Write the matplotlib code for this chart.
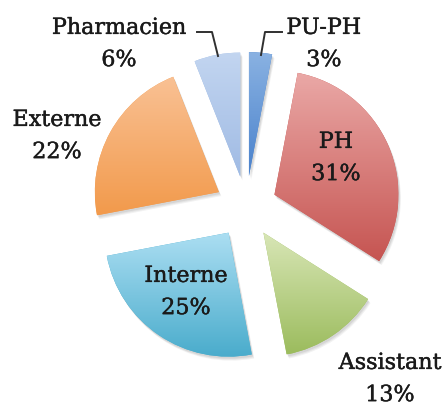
import numpy as np
import matplotlib
matplotlib.use('Agg')
import matplotlib.pyplot as plt
import matplotlib.patheffects as pe
from matplotlib.colors import LinearSegmentedColormap

labels = ['PU-PH', 'PH', 'Assistant', 'Interne', 'Externe', 'Pharmacien']
values = [3, 31, 13, 25, 22, 6]
tops = ['#8ab2e2', '#eaa8a6', '#d8e6b6', '#abdef2', '#f9c194', '#c2d5f0']
bottoms = ['#4a82cc', '#c65552', '#9cbc5e', '#4aaccc', '#f29a4c', '#a0bbe4']

# pixel geometry of the reference picture
W, H = 445, 406
cx, cy, R = 246, 208, 124


def px(x, y):
    return (x - cx) / R, (cy - y) / R


fig = plt.figure(figsize=(W / 100, H / 100), dpi=100)
ax = fig.add_axes([0, 0, 1, 1])

wedges, _ = ax.pie(values, startangle=90, counterclock=False,
                   explode=[0.25] * len(values), radius=1,
                   colors=bottoms, wedgeprops=dict(linewidth=0))

for w, top, bot in zip(wedges, tops, bottoms):
    # soft shadow
    for k, a in [(4, 0.10), (3, 0.12), (2, 0.15)]:
        sh = matplotlib.patches.Wedge((w.center[0] + k * 0.6 / R, w.center[1] - k / R),
                                      w.r, w.theta1, w.theta2,
                                      facecolor='#808080', alpha=a, lw=0, zorder=0)
        ax.add_patch(sh)
    # vertical gradient clipped to the slice
    ext = w.get_path().transformed(w.get_patch_transform()).get_extents()
    cmap = LinearSegmentedColormap.from_list('g', [bot, top])
    grad = np.linspace(0, 1, 100).reshape(-1, 1)
    im = ax.imshow(grad, cmap=cmap, origin='lower', aspect='auto',
                   extent=[ext.x0, ext.x1, ext.y0, ext.y1], zorder=2)
    im.set_clip_path(w)
    w.set_zorder(1)

txt = dict(family='DejaVu Serif', fontsize=16, color='#1a1a1a',
           ha='center', va='center', linespacing=1.6, zorder=5,
           path_effects=[pe.withStroke(linewidth=0.3, foreground='#1a1a1a')])
label_px = {'PU-PH': (324, 45), 'PH': (336, 159), 'Assistant': (390, 380),
            'Interne': (186, 293), 'Externe': (57, 137), 'Pharmacien': (119, 45)}
for lab, v in zip(labels, values):
    x, y = px(*label_px[lab])
    ax.text(x, y, f'{lab}\n{v}%', **txt)

# leader lines
for pts in [[(197, 33), (212, 33), (218, 57)], [(282, 33), (265, 33), (261, 56)]]:
    xs, ys = zip(*[px(*p) for p in pts])
    ax.plot(xs, ys, color='#303030', lw=1.4, zorder=4)

x0, y0 = px(0, H)
x1, y1 = px(W, 0)
ax.set_xlim(x0, x1)
ax.set_ylim(y0, y1)
ax.axis('off')
fig.savefig('out.png', dpi=100)
